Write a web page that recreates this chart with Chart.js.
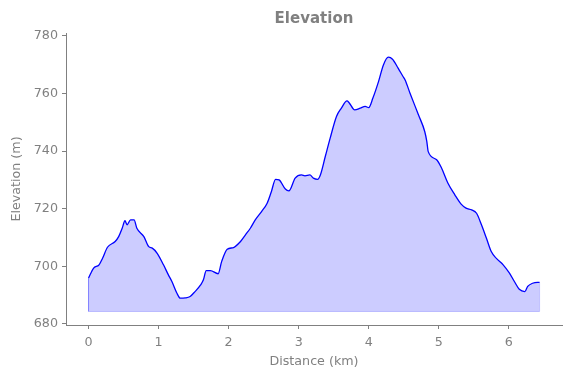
<!DOCTYPE html>
<html>
<head>
<meta charset="utf-8">
<script src="https://cdn.jsdelivr.net/npm/chart.js@4/dist/chart.umd.min.js"></script>
<style>
  html, body { margin: 0; padding: 0; background: #fff; }
  #wrap { width: 571px; height: 378px; }
</style>
</head>
<body>
<div id="wrap"><canvas id="elevationChart"></canvas></div>
<script>
// distance along the track (km) and elevation (m)
const distanceKm = [
  0.00, 0.07, 0.15, 0.20, 0.27, 0.38, 0.43, 0.48, 0.52, 0.55, 0.60, 0.65, 0.69, 0.79, 0.86, 0.91, 0.98,
  1.07, 1.14, 1.19, 1.26, 1.31, 1.38, 1.45, 1.52, 1.60, 1.64, 1.68, 1.74, 1.85, 1.90, 1.98,
  2.07, 2.17, 2.24, 2.31, 2.38, 2.47, 2.55, 2.61, 2.67, 2.72, 2.81, 2.86, 2.95,
  3.04, 3.09, 3.16, 3.21, 3.27, 3.31, 3.38, 3.45, 3.54, 3.61, 3.69, 3.72, 3.80, 3.88, 3.95,
  4.00, 4.06, 4.14, 4.21, 4.28, 4.34, 4.42, 4.49, 4.52, 4.59, 4.71, 4.80, 4.83, 4.85, 4.97,
  5.04, 5.13, 5.23, 5.32, 5.39, 5.47, 5.54, 5.61, 5.68, 5.75, 5.82, 5.92,
  6.01, 6.08, 6.15, 6.23, 6.27, 6.34, 6.41, 6.44
];
const elevationM = [
  695.9, 699.3, 700.5, 702.8, 706.6, 708.6, 710.3, 713.2, 715.8, 714.4, 716.1, 716.1, 713.2, 710.3, 706.8, 706.3, 704.5,
  700.5, 697.0, 694.7, 690.7, 688.9, 689.0, 689.5, 691.2, 693.5, 695.3, 698.5, 698.5, 697.4, 701.6, 705.9,
  706.5, 708.6, 710.9, 713.2, 716.1, 719.0, 721.9, 725.9, 730.2, 730.0, 726.8, 726.2, 730.6,
  731.7, 731.4, 731.7, 730.6, 730.2, 731.7, 738.1, 744.5, 752.0, 754.9, 757.4, 756.8, 754.3, 754.9, 755.5,
  755.1, 758.4, 764.1, 769.9, 772.6, 771.9, 768.8, 765.9, 764.7, 760.1, 752.6, 746.8, 743.3, 739.8, 737.0,
  734.1, 728.9, 724.8, 721.6, 720.2, 719.6, 718.4, 714.4, 709.8, 705.1, 702.8, 700.5,
  697.6, 694.7, 692.0, 691.2, 693.0, 694.1, 694.4, 694.4
];
const fillBase = 684.3;
const xTicks = [0, 1, 2, 3, 4, 5, 6];
const yTicks = [680, 700, 720, 740, 760, 780];
const chartTitle = "Elevation";

const grey = "#808080";
const font = { family: "'DejaVu Sans', sans-serif", size: 12.7 };

const profile = distanceKm.map((d, i) => ({ x: d, y: elevationM[i] }));
const last = distanceKm.length - 1;
// outline of the shaded region (sides and floor)
const shadeEdge = [
  { x: distanceKm[0], y: elevationM[0] },
  { x: distanceKm[0], y: fillBase },
  { x: distanceKm[last], y: fillBase },
  { x: distanceKm[last], y: elevationM[last] },
];

// title centred over the plot area, not the whole canvas
const axesTitle = {
  id: "axesTitle",
  afterDraw(chart) {
    const { ctx, chartArea } = chart;
    ctx.save();
    ctx.fillStyle = grey;
    ctx.font = "bold 15px 'DejaVu Sans', sans-serif";
    ctx.textAlign = "center";
    ctx.textBaseline = "alphabetic";
    ctx.fillText(chartTitle, (chartArea.left + chartArea.right) / 2, 23);
    ctx.restore();
  },
};

new Chart(document.getElementById("elevationChart"), {
  type: "scatter",
  data: {
    datasets: [
      {
        data: shadeEdge,
        showLine: true,
        borderColor: "rgba(0, 0, 255, 0.2)",
        borderWidth: 1,
        pointRadius: 0,
        tension: 0,
        fill: false,
      },
      {
        data: profile,
        showLine: true,
        borderColor: "#0000ff",
        borderWidth: 1.3,
        backgroundColor: "rgba(0, 0, 255, 0.2)",
        pointRadius: 0,
        tension: 0.4,
        cubicInterpolationMode: "monotone",
        fill: { value: fillBase },
      },
    ],
  },
  plugins: [axesTitle],
  options: {
    responsive: true,
    maintainAspectRatio: false,
    animation: false,
    layout: { padding: { right: 9, top: 33, bottom: 0, left: 0 } },
    plugins: {
      legend: { display: false },
      tooltip: { enabled: false },
      title: { display: false },
    },
    scales: {
      x: {
        type: "linear",
        min: -0.322,
        max: 6.76,
        afterBuildTicks: (scale) => { scale.ticks = xTicks.map((v) => ({ value: v })); },
        afterFit: (scale) => { scale.height = 53; },
        ticks: { color: grey, font: font, padding: 6, maxRotation: 0 },
        grid: { drawOnChartArea: false, tickLength: 4, color: grey },
        border: { color: grey, width: 1 },
        title: { display: true, text: "Distance (km)", color: grey, font: font, padding: { top: 2, bottom: 9 } },
      },
      y: {
        min: 679.6,
        max: 781,
        afterBuildTicks: (scale) => { scale.ticks = yTicks.map((v) => ({ value: v })); },
        afterFit: (scale) => { scale.width = 66; },
        ticks: { color: grey, font: font, padding: 4 },
        grid: { drawOnChartArea: false, tickLength: 4, color: grey },
        border: { color: grey, width: 1 },
        title: { display: true, text: "Elevation (m)", color: grey, font: font, padding: { top: 9, bottom: 4 } },
      },
    },
  },
});
</script>
</body>
</html>
